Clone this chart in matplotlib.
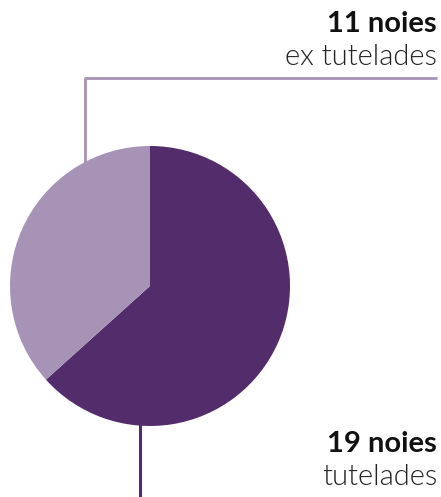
import matplotlib
matplotlib.use("Agg")
import matplotlib.pyplot as plt

# data
labels = ["tutelades", "ex tutelades"]
counts = [19, 11]
colors = ["#532c6c", "#a793b6"]

W, H = 441, 497
fig = plt.figure(figsize=(W / 100, H / 100), dpi=100)
ax = fig.add_axes([0, 0, 1, 1])

cx, cy, r = 150, H - 286, 140

# leader lines (drawn first so the pie sits on top)
ax.plot([85, 85, 437], [H - 165, H - 78, H - 78], color=colors[1], lw=2, solid_capstyle="butt", zorder=1)
ax.plot([140, 140], [cy - r + 5, 0], color=colors[0], lw=2.2, solid_capstyle="butt", zorder=1)

ax.pie(counts, colors=colors, startangle=90, counterclock=False,
       center=(cx, cy), radius=r, frame=True,
       wedgeprops=dict(linewidth=0, zorder=2))
ax.set_xlim(0, W)
ax.set_ylim(0, H)
ax.set_aspect("equal")
ax.axis("off")

font = "Lato"
ax.text(437, H - 32, f"{counts[1]} noies", ha="right", va="baseline",
        fontsize=21, fontweight="bold", family=font, color="#111111")
ax.text(437, H - 65, labels[1], ha="right", va="baseline",
        fontsize=21, fontweight=300, family=font, color="#222222")
ax.text(437, H - 452, f"{counts[0]} noies", ha="right", va="baseline",
        fontsize=21, fontweight="bold", family=font, color="#111111")
ax.text(437, H - 485, labels[0], ha="right", va="baseline",
        fontsize=21, fontweight=300, family=font, color="#222222")

fig.savefig("out.png", dpi=100)
